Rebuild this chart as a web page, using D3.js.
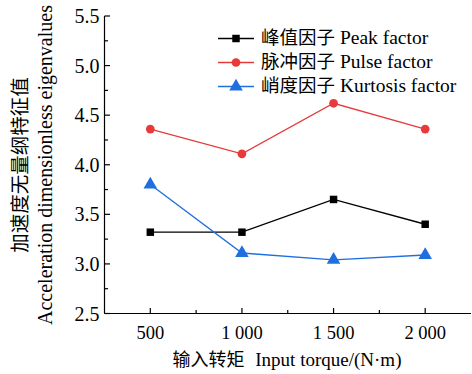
<!DOCTYPE html>
<html><head><meta charset="utf-8">
<script src="https://cdn.jsdelivr.net/npm/d3@7"></script>
<style>body{margin:0;background:#fff}svg{display:block}text{font-family:"Liberation Serif","Times New Roman","Noto Sans CJK SC",serif}.cjk{font-family:"Noto Sans CJK SC",sans-serif}</style>
</head><body><svg id="c" width="472" height="374"></svg>
<script>
const torques = [500, 1000, 1500, 2000];
const xTickLabels = ["500", "1 000", "1 500", "2 000"];
const peakFactor = [3.32, 3.32, 3.65, 3.40];
const pulseFactor = [4.36, 4.11, 4.62, 4.36];
const kurtosisFactor = [3.80, 3.11, 3.04, 3.09];
const yTicks = [2.5, 3.0, 3.5, 4.0, 4.5, 5.0, 5.5];
const seriesNamesZh = ["峰值因子", "脉冲因子", "峭度因子"];
const seriesNamesEn = ["Peak factor", "Pulse factor", "Kurtosis factor"];
const seriesColors = ["#000000", "#e8393b", "#1f6fe0"];
const seriesSymbols = [d3.symbolSquare, d3.symbolCircle, d3.symbolTriangle];

const svg = d3.select("#c");
const x = d3.scaleLinear().domain([250, 2250]).range([104.5, 471]);
const y = d3.scaleLinear().domain([2.5, 5.5]).range([313.5, 16]);

function mixed(sel, zh, en, zhSize, enSize, gap) {
  sel.append("tspan").attr("class", "cjk").attr("font-size", zhSize).text(zh);
  sel.append("tspan").attr("font-size", enSize).attr("dx", gap).text(" " + en);
}

const g = svg.append("g");
// Y axis
const yMinor = d3.range(2.75, 5.5, 0.5);
g.append("line").attr("x1", x(250)).attr("x2", x(250)).attr("y1", y(2.5)).attr("y2", y(5.5)).attr("stroke", "#000").attr("stroke-width", 1.2);
g.selectAll(".yt").data(yTicks).join("line").attr("x1", x(250)).attr("x2", x(250) + 5.5).attr("y1", d => y(d)).attr("y2", d => y(d)).attr("stroke", "#000").attr("stroke-width", 1.2);
g.selectAll(".ym").data(yMinor).join("line").attr("x1", x(250)).attr("x2", x(250) + 3.5).attr("y1", d => y(d)).attr("y2", d => y(d)).attr("stroke", "#000").attr("stroke-width", 1.2);
g.selectAll(".yl").data(yTicks).join("text").attr("x", x(250) - 5).attr("y", d => y(d)).attr("dy", "0.35em").attr("text-anchor", "end").attr("font-size", 20).text(d => d.toFixed(1));
// X axis
const xMinor = [750, 1250, 1750];
g.append("line").attr("x1", x(250)).attr("x2", x(2250)).attr("y1", y(2.5)).attr("y2", y(2.5)).attr("stroke", "#000").attr("stroke-width", 1.2);
g.selectAll(".xt").data(torques).join("line").attr("x1", d => x(d)).attr("x2", d => x(d)).attr("y1", y(2.5)).attr("y2", y(2.5) - 5.5).attr("stroke", "#000").attr("stroke-width", 1.2);
g.selectAll(".xm").data(xMinor).join("line").attr("x1", d => x(d)).attr("x2", d => x(d)).attr("y1", y(2.5)).attr("y2", y(2.5) - 3.5).attr("stroke", "#000").attr("stroke-width", 1.2);
g.selectAll(".xl").data(torques).join("text").attr("x", d => x(d)).attr("y", 339).attr("text-anchor", "middle").attr("font-size", 18.5).text((d, i) => xTickLabels[i]);
// Titles
const xt = svg.append("text").attr("x", 287).attr("y", 366).attr("text-anchor", "middle");
mixed(xt, "输入转矩", "Input torque/(N·m)", 18, 19, 6);
svg.append("text").attr("class", "cjk").attr("transform", "translate(27,165) rotate(-90)").attr("text-anchor", "middle").attr("font-size", 19.5).text("加速度无量纲特征值");
svg.append("text").attr("transform", "translate(52,165) rotate(-90)").attr("text-anchor", "middle").attr("font-size", 20).text("Acceleration dimensionless eigenvalues");

// Series
const allSeries = [peakFactor, pulseFactor, kurtosisFactor];
const line = d3.line().x((d, i) => x(torques[i])).y(d => y(d));
const symSizes = [56, 60, 80];
allSeries.forEach((vals, s) => {
  svg.append("path").attr("d", line(vals)).attr("fill", "none").attr("stroke", seriesColors[s]).attr("stroke-width", 1.3);
  svg.selectAll(".m" + s).data(vals).join("path")
    .attr("transform", (d, i) => `translate(${x(torques[i])},${y(d)})`)
    .attr("d", d3.symbol().type(seriesSymbols[s]).size(symSizes[s]))
    .attr("fill", seriesColors[s]);
});

// Legend
const lg = svg.append("g");
seriesNamesZh.forEach((name, s) => {
  const ly = 38.5 + s * 24;
  lg.append("line").attr("x1", 218).attr("x2", 254).attr("y1", ly).attr("y2", ly).attr("stroke", seriesColors[s]).attr("stroke-width", 1.3);
  lg.append("path").attr("transform", `translate(236,${ly})`).attr("d", d3.symbol().type(seriesSymbols[s]).size(symSizes[s])).attr("fill", seriesColors[s]);
  const t = lg.append("text").attr("x", 261).attr("y", ly).attr("dy", "0.35em");
  mixed(t, name, seriesNamesEn[s], 18.5, 19.5, 0);
});
</script></body></html>
